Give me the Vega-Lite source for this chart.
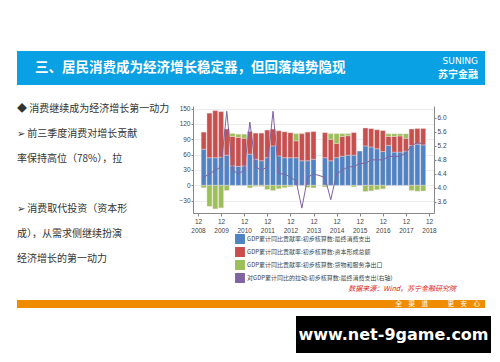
{
  "$schema": "https://vega.github.io/schema/vega-lite/v6.json",
  "background": "white",
  "padding": {"left": 17, "top": 51, "right": 0, "bottom": 0},
  "config": {"font": "Noto Sans CJK SC", "view": {"stroke": null}, "axis": {"labelOverlap": false}},
  "datasets": {
    "gdp": [
      {"d": "2009/03/31", "cons": 70.6, "inv": 33.4, "net": -4.6, "pull": 4.3},
      {"d": "2009/06/30", "cons": 54, "inv": 87, "net": -41, "pull": 4.4},
      {"d": "2009/09/30", "cons": 54, "inv": 92, "net": -46, "pull": 4.5},
      {"d": "2009/12/31", "cons": 55, "inv": 89, "net": -44, "pull": 4.6},
      {"d": "2010/03/31", "cons": 59, "inv": 51, "net": -10, "pull": 6.19},
      {"d": "2010/06/30", "cons": 38, "inv": 57.5, "net": 5.9, "pull": 4.5},
      {"d": "2010/09/30", "cons": 37, "inv": 56.5, "net": 6.5, "pull": 4.4},
      {"d": "2010/12/31", "cons": 38, "inv": 54, "net": 8, "pull": 4.5},
      {"d": "2011/03/31", "cons": 61, "inv": 44, "net": -5, "pull": 5.88},
      {"d": "2011/06/30", "cons": 51, "inv": 51, "net": -2, "pull": 4.6},
      {"d": "2011/09/30", "cons": 48, "inv": 54, "net": -2, "pull": 4.5},
      {"d": "2011/12/31", "cons": 54, "inv": 54, "net": -8, "pull": 4.6},
      {"d": "2012/03/31", "cons": 77, "inv": 33, "net": -10, "pull": 6.19},
      {"d": "2012/06/30", "cons": 57.6, "inv": 49, "net": -6.6, "pull": 4.4},
      {"d": "2012/09/30", "cons": 54, "inv": 50.6, "net": -4.6, "pull": 4.4},
      {"d": "2012/12/31", "cons": 54, "inv": 48.7, "net": -2.7, "pull": 4.3},
      {"d": "2013/03/31", "cons": 54, "inv": 33, "net": 14, "pull": 4.2},
      {"d": "2013/06/30", "cons": 48, "inv": 53, "net": 1, "pull": 3.42},
      {"d": "2013/09/30", "cons": 48, "inv": 56, "net": -4, "pull": 4.3},
      {"d": "2013/12/31", "cons": 51, "inv": 54, "net": -5, "pull": 4.4},
      {"d": "2014/06/30", "cons": 54, "inv": 49, "net": -3, "pull": 4.3},
      {"d": "2014/09/30", "cons": 48, "inv": 42, "net": 11, "pull": 3.66},
      {"d": "2014/12/31", "cons": 54, "inv": 28, "net": 19, "pull": 4.4},
      {"d": "2015/03/31", "cons": 57, "inv": 38.5, "net": 5.5, "pull": 4.5},
      {"d": "2015/06/30", "cons": 59, "inv": 38, "net": 4, "pull": 4.6},
      {"d": "2015/09/30", "cons": 59, "inv": 44, "net": -3, "pull": 4.6},
      {"d": "2015/12/31", "cons": 67, "pull": 4.7},
      {"d": "2016/03/31", "cons": 77, "inv": 35, "net": -12, "pull": 4.7},
      {"d": "2016/06/30", "cons": 75, "inv": 35.8, "net": -10.8, "pull": 4.8},
      {"d": "2016/09/30", "cons": 71.5, "inv": 37.1, "net": -8.6, "pull": 4.8},
      {"d": "2016/12/31", "cons": 66, "inv": 41, "net": -7, "pull": 4.8},
      {"d": "2017/03/31", "cons": 78, "inv": 17.5, "net": 5.2, "pull": 4.9},
      {"d": "2017/06/30", "cons": 65, "inv": 30.5, "net": 5.2, "pull": 4.9},
      {"d": "2017/09/30", "cons": 65, "inv": 31.5, "net": 4.2, "pull": 4.9},
      {"d": "2017/12/31", "cons": 67, "inv": 25, "net": 8.7, "pull": 5.0},
      {"d": "2018/03/31", "cons": 78, "inv": 32, "net": -10, "pull": 5.2},
      {"d": "2018/06/30", "cons": 80.5, "inv": 30.5, "net": -11.5, "pull": 5.3},
      {"d": "2018/09/30", "cons": 79, "inv": 32, "net": -11, "pull": 5.25}
    ],
    "notes": [
      {"n": 0, "t": "◆ 消费继续成为经济增长第一动力"},
      {"n": 1, "t": "➢ 前三季度消费对增长贡献"},
      {"n": 2, "t": "　率保持高位（78%），拉"},
      {"n": 4, "t": "➢ 消费取代投资（资本形"},
      {"n": 5, "t": "　成），从需求侧继续扮演"},
      {"n": 6, "t": "　经济增长的第一动力"}
    ]
  },
  "spacing": 18,
  "vconcat": [
    {
      "width": 468,
      "height": 34,
      "view": {"fill": "#0aa0e4", "stroke": null},
      "data": {"values": [{"t": "三、居民消费成为经济增长稳定器，但回落趋势隐现", "a": "SUNING", "b": "苏宁金融"}]},
      "layer": [
        {
          "mark": {"type": "text", "align": "left", "baseline": "middle", "dx": 18, "color": "white", "fontSize": 13.5, "fontWeight": "bold"},
          "encoding": {
            "x": {"datum": 0, "type": "quantitative", "scale": {"domain": [0, 1]}, "axis": null},
            "text": {"field": "t"}
          }
        },
        {
          "mark": {"type": "text", "align": "right", "baseline": "middle", "dx": -7, "dy": -7, "color": "white", "fontSize": 9, "font": "DejaVu Sans"},
          "encoding": {
            "x": {"datum": 1, "type": "quantitative", "scale": {"domain": [0, 1]}, "axis": null},
            "text": {"field": "a"}
          }
        },
        {
          "mark": {"type": "text", "align": "right", "baseline": "middle", "dx": -7, "dy": 7, "color": "white", "fontSize": 10, "fontWeight": "bold"},
          "encoding": {
            "x": {"datum": 1, "type": "quantitative", "scale": {"domain": [0, 1]}, "axis": null},
            "text": {"field": "b"}
          }
        }
      ]
    },
    {
      "spacing": 8,
      "vconcat": [
        {
          "spacing": 0,
          "hconcat": [
            {
              "width": 161,
              "height": 156,
              "data": {"name": "notes"},
              "mark": {"type": "text", "align": "left", "baseline": "middle", "fontSize": 10, "color": "#333333"},
              "encoding": {
                "x": {"datum": 0, "type": "quantitative", "scale": {"domain": [0, 1]}, "axis": null},
                "y": {"field": "n", "type": "ordinal", "scale": {"type": "point", "domain": [0, 1, 2, 3, 4, 5, 6], "padding": 0.1}, "axis": null},
                "text": {"field": "t"},
                "fontWeight": {"condition": {"test": "datum.n == 0", "value": "bold"}, "value": "normal"}
              }
            },
            {
              "width": 241,
              "height": 107,
              "title": {"text": "数据来源：Wind，苏宁金融研究院", "orient": "bottom", "anchor": "end", "color": "#e0201b", "fontSize": 7, "fontStyle": "italic", "fontWeight": "normal", "offset": 51, "dx": 10},
              "data": {"name": "gdp"},
              "encoding": {
                "x": {
                  "field": "d", "type": "temporal",
                  "scale": {"domain": [{"year": 2008, "month": 12, "date": 31}, {"year": 2018, "month": 12, "date": 31}]},
                  "axis": {
                    "title": null, "grid": false,
                    "values": [
                      {"year": 2008, "month": 12, "date": 31}, {"year": 2009, "month": 12, "date": 31},
                      {"year": 2010, "month": 12, "date": 31}, {"year": 2011, "month": 12, "date": 31},
                      {"year": 2012, "month": 12, "date": 31}, {"year": 2013, "month": 12, "date": 31},
                      {"year": 2014, "month": 12, "date": 31}, {"year": 2015, "month": 12, "date": 31},
                      {"year": 2016, "month": 12, "date": 31}, {"year": 2017, "month": 12, "date": 31},
                      {"year": 2018, "month": 12, "date": 31}
                    ],
                    "labelExpr": "[timeFormat(datum.value, '%m'), timeFormat(datum.value, '%Y')]",
                    "labelFontSize": 6.5, "labelColor": "#444444", "labelLineHeight": 9,
                    "labelFlush": false, "labelOverlap": false, "labelSeparation": 0, "labelBound": false, "labelPadding": 2,
                    "tickSize": 3, "tickColor": "#888888", "domainColor": "#888888", "labelFont": "Liberation Sans"
                  }
                }
              },
              "layer": [
                {
                  "transform": [{"fold": ["cons", "inv", "net"], "as": ["s", "v"]}],
                  "mark": {"type": "bar", "width": 5, "stroke": "#f3dede", "strokeWidth": 0.4},
                  "encoding": {
                    "y": {
                      "field": "v", "type": "quantitative", "stack": "zero",
                      "scale": {"domain": [-54, 155], "nice": false},
                      "axis": {
                        "title": null, "values": [-30, 0, 30, 60, 90, 120, 150],
                        "labelFontSize": 6.5, "labelColor": "#444444", "labelPadding": 1,
                        "tickSize": 2, "tickColor": "#888888", "domainColor": "#888888",
                        "grid": true, "gridColor": "#ececec", "labelFont": "Liberation Sans"
                      }
                    },
                    "color": {
                      "field": "s", "type": "nominal",
                      "scale": {"domain": ["cons", "inv", "net", "pull"], "range": ["#4f83c4", "#c6504e", "#9bbf59", "#8064a2"]},
                      "legend": {
                        "orient": "none", "legendX": 218, "legendY": 183, "direction": "vertical", "title": null,
                        "labelFontSize": 6, "labelColor": "#444444", "labelLimit": 400, "labelOffset": 2,
                        "symbolSize": 70, "rowPadding": -7, "padding": 0,
                        "labelExpr": "datum.value == 'cons' ? 'GDP累计同比贡献率:初步核算数:最终消费支出' : datum.value == 'inv' ? 'GDP累计同比贡献率:初步核算数:资本形成总额' : datum.value == 'net' ? 'GDP累计同比贡献率:初步核算数:货物和服务净出口' : '对GDP累计同比的拉动:初步核算数:最终消费支出(右轴)'",
                        "encode": {
                          "symbols": {
                            "update": {
                              "shape": {"signal": "datum.value == 'pull' ? 'stroke' : 'M-1.5,-0.9H1.5V0.9H-1.5Z'"},
                              "fill": {"scale": "color", "field": "value"},
                              "stroke": {"scale": "color", "field": "value"},
                              "strokeWidth": {"value": 1}
                            }
                          }
                        }
                      }
                    },
                    "order": {"field": "s", "sort": "ascending"}
                  }
                },
                {
                  "mark": {"type": "line", "strokeWidth": 1},
                  "encoding": {
                    "y": {
                      "field": "pull", "type": "quantitative",
                      "scale": {"domain": [3.28, 6.34], "nice": false, "zero": false},
                      "axis": {
                        "orient": "right", "title": null, "values": [3.6, 4.0, 4.4, 4.8, 5.2, 5.6, 6.0], "format": ".1f",
                        "labelFontSize": 6.5, "labelColor": "#444444", "labelPadding": 1,
                        "tickSize": 2, "tickColor": "#888888", "domainColor": "#888888", "grid": false, "labelFont": "Liberation Sans"
                      }
                    },
                    "color": {"datum": "pull", "type": "nominal"}
                  }
                }
              ],
              "resolve": {"scale": {"y": "independent"}}
            }
          ]
        },
        {
          "width": 468,
          "height": 8,
          "view": {"fill": "#f08c00", "stroke": null},
          "data": {"values": [{"t": "全　渠　道　　　更　安　心"}]},
          "mark": {"type": "text", "align": "right", "baseline": "middle", "dx": -5, "color": "white", "fontSize": 6.5},
          "encoding": {
            "x": {"datum": 1, "type": "quantitative", "scale": {"domain": [0, 1]}, "axis": null},
            "text": {"field": "t"}
          }
        },
        {
          "spacing": 0,
          "hconcat": [
            {
              "width": 279,
              "height": 37,
              "data": {"values": [{"t": ""}]},
              "mark": {"type": "text"},
              "encoding": {"text": {"field": "t"}}
            },
            {
              "width": 195,
              "height": 37,
              "view": {"fill": "#000000", "stroke": null},
              "data": {"values": [{"t": "www.net-9game.com"}]},
              "mark": {"type": "text", "align": "center", "baseline": "middle", "color": "white", "fontSize": 16, "fontWeight": "bold", "font": "DejaVu Sans"},
              "encoding": {"text": {"field": "t"}}
            }
          ]
        }
      ]
    }
  ]
}
